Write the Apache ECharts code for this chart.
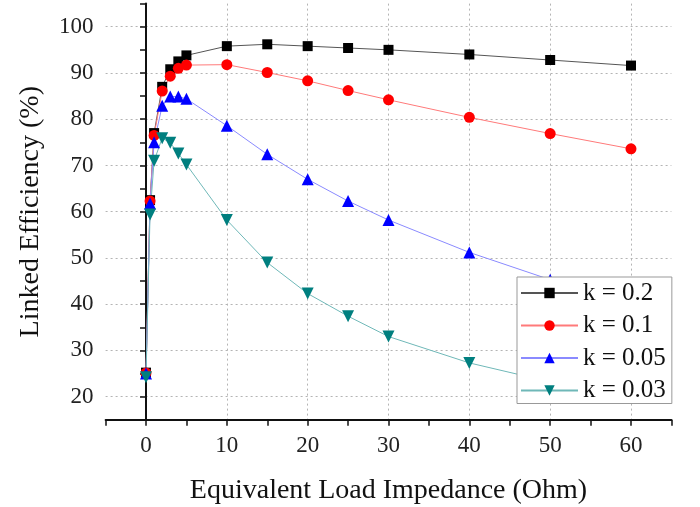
<!DOCTYPE html>
<html>
<head>
<meta charset="utf-8">
<script src="https://cdn.jsdelivr.net/npm/echarts@6/dist/echarts.min.js"></script>
<style>
  html, body { margin: 0; padding: 0; background: #fff; }
  #main { width: 700px; height: 507px; }
</style>
</head>
<body>
<div id="main"></div>
<script>
// load impedance (Ohm)
const loads = [0, 0.5, 1, 2, 3, 4, 5, 10, 15, 20, 25, 30, 40, 50, 60]
// linked efficiency (%) for each coupling k
const k02 = [25.2, 62.5, 77, 87, 90.8, 92.5, 93.8, 95.8, 96.2, 95.8, 95.4, 95.0, 94.0, 92.8, 91.6]
const k01 = [25.1, 62.3, 76.5, 86.1, 89.3, 91.0, 91.7, 91.8, 90.1, 88.3, 86.2, 84.2, 80.4, 76.9, 73.6]
const k005 = [25.0, 61.8, 75.0, 82.9, 84.9, 84.9, 84.4, 78.6, 72.4, 67.0, 62.3, 58.2, 51.2, 45.3, 41.0]
const k003 = [24.2, 59.4, 71.0, 75.9, 74.9, 72.6, 70.2, 58.2, 49.0, 42.3, 37.4, 33.0, 27.3, 23.2, 20.5]
const seriesNames = ['k = 0.2', 'k = 0.1', 'k = 0.05', 'k = 0.03']

const font = 'Liberation Serif'

function pairs(ys) {
    return loads.map((x, i) => [x, ys[i]])
}

function makeSeries(name, ys, color, lineColor, symbol, size) {
    return {
        name: name,
        type: 'line',
        data: pairs(ys),
        symbol: symbol,
        symbolSize: size,
        itemStyle: { color: color },
        lineStyle: { color: lineColor, width: 1 },
        emphasis: { disabled: true },
        z: 2
    }
}

let chart = echarts.init(document.getElementById('main'))

// dotted grid only on the labelled (every 10) ticks
let grid = { type: [2, 3], color: ['transparent', '#b4b4b4'], width: 1 }

let option = {
    animation: false,
    grid: {
        left: 105.6,
        top: 3.6,
        width: 565.8,
        height: 416.2,
        outerBoundsMode: 'none',
        containLabel: false
    },
    legend: {
        orient: 'vertical',
        left: 517,
        top: 277,
        width: 156,
        padding: [3, 6, 0, 3],
        itemGap: 6.5,
        itemWidth: 57,
        itemHeight: 13,
        backgroundColor: '#fff',
        borderColor: '#999',
        borderWidth: 1,
        z: 10,
        textStyle: { fontFamily: font, fontSize: 25, color: '#111', lineHeight: 26 },
        data: seriesNames
    },
    xAxis: {
        type: 'value',
        min: -5,
        max: 65,
        interval: 5,
        axisLine: { lineStyle: { color: '#111', width: 2 } },
        axisTick: { show: true, length: 6, inside: false, lineStyle: { color: '#111', width: 1.5 } },
        axisLabel: {
            fontFamily: font,
            fontSize: 23,
            color: '#222',
            margin: 15,
            formatter: v => (v % 10 === 0 ? String(v) : '')
        },
        splitLine: { show: true, lineStyle: grid },
        name: 'Equivalent Load Impedance (Ohm)',
        nameLocation: 'middle',
        nameGap: 57,
        nameTextStyle: { fontFamily: font, fontSize: 28, color: '#111' }
    },
    yAxis: {
        type: 'value',
        min: 15,
        max: 105,
        interval: 5,
        axisLine: { show: true, lineStyle: { color: '#111', width: 2 } },
        axisTick: { show: true, length: 6, inside: false, lineStyle: { color: '#111', width: 1.5 } },
        axisLabel: {
            fontFamily: font,
            fontSize: 23,
            color: '#222',
            margin: 12,
            formatter: v => (v % 10 === 0 ? String(v) : '')
        },
        splitLine: { show: true, lineStyle: grid },
        name: 'Linked Efficiency (%)',
        nameLocation: 'middle',
        nameGap: 61,
        nameTextStyle: { fontFamily: font, fontSize: 28, color: '#111' }
    },
    series: [
        makeSeries(seriesNames[0], k02, '#000000', '#555555', 'rect', 10),
        makeSeries(seriesNames[1], k01, '#ff0000', '#ff7a7a', 'circle', 11),
        makeSeries(seriesNames[2], k005, '#0000ff', '#8a8aff', 'triangle', 12),
        makeSeries(seriesNames[3], k003, '#007f7f', '#6fb8b8', 'path://M0,0 L10,0 L5,9 Z', 12)
    ]
}
chart.setOption(option)
</script>
</body>
</html>
